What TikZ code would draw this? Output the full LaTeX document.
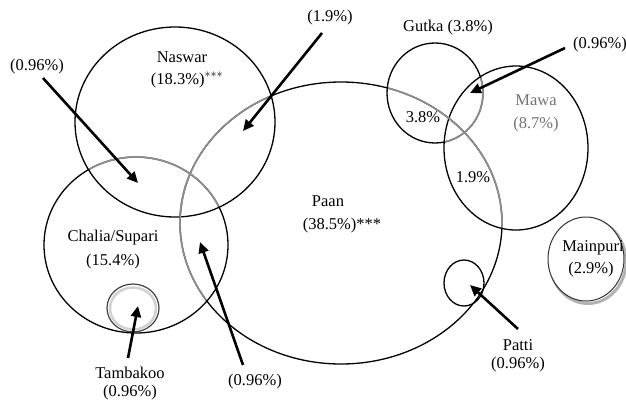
\documentclass[tikz,border=0pt]{standalone}
\usepackage{fontspec}
\setmainfont{Liberation Serif}
\usetikzlibrary{shapes.geometric,arrows.meta}
\begin{document}
\begin{tikzpicture}[x=1pt,y=-1pt,
  ring/.style={draw,ellipse,line width=1.3pt,inner sep=0pt},
  lbl/.style={font=\fontsize{16.5}{18}\selectfont,inner sep=0pt,align=center},
  fade/.style={draw=black!45,line width=1.7pt},
  arr/.style={line width=2.6pt,-{Triangle[length=11pt,width=10pt]}}]
\useasboundingbox (0,0) rectangle (626,402);
% circles
\node[ring,minimum width=200pt,minimum height=190pt] (naswar) at (175,122) {};
\node[ring,minimum width=322pt,minimum height=282pt] (paan) at (341,223) {};
\node[ring,minimum width=184pt,minimum height=176pt] (chalia) at (136,245) {};
\node[ring,minimum width=96pt,minimum height=100pt] (gutka) at (435,93) {};
\node[ring,minimum width=144pt,minimum height=164pt] (mawa) at (516,148) {};
\node[ring,minimum width=40pt,minimum height=46pt] (patti) at (464,283) {};
% faded parts of rings that lie inside other rings
\begin{scope}
  \clip (naswar.center) ellipse [x radius=99pt,y radius=94pt];
  \draw[fade] (paan.center) ellipse [x radius=161pt,y radius=141pt];
  \draw[fade] (chalia.center) ellipse [x radius=92pt,y radius=88pt];
\end{scope}
\begin{scope}
  \clip (chalia.center) ellipse [x radius=91pt,y radius=87pt];
  \draw[fade] (paan.center) ellipse [x radius=161pt,y radius=141pt];
\end{scope}
\begin{scope}
  \clip (gutka.center) ellipse [x radius=47pt,y radius=49pt];
  \draw[fade] (paan.center) ellipse [x radius=161pt,y radius=141pt];
\end{scope}
\begin{scope}
  \clip (mawa.center) ellipse [x radius=71pt,y radius=81pt];
  \draw[fade] (paan.center) ellipse [x radius=161pt,y radius=141pt];
  \draw[fade] (gutka.center) ellipse [x radius=48pt,y radius=50pt];
\end{scope}
% Tambakoo ring with inner glow
\node[ring,draw=black!75,line width=1.2pt,minimum width=52pt,minimum height=48pt] (tamb) at (133,308) {};
\node[ring,draw=black!18,line width=2.5pt,minimum width=46pt,minimum height=42pt] (tambglow) at (133,308.5) {};
% Mainpuri ring with shadow
\node[ring,draw=black!30,line width=3pt,minimum width=76pt,minimum height=84pt] (mainshadow) at (588,261.5) {};
\node[ring,fill=white,draw=black!80,line width=1pt,minimum width=76pt,minimum height=84pt] (mainpuri) at (586,259) {};
% labels
\node[lbl] (tnaswar) at (182,57) {Naswar};
\node[lbl] (pnaswar) at (187,80) {(18.3\%)$^{***}$};
\node[lbl] (tpaan) at (328,201) {Paan};
\node[lbl] (ppaan) at (342,226) {(38.5\%)***};
\node[lbl] (tchalia) at (113,238) {Chalia/Supari};
\node[lbl] (pchalia) at (113,262) {(15.4\%)};
\node[lbl] (tgutka) at (448,28) {Gutka (3.8\%)};
\node[lbl,text=black!55] (tmawa) at (536,100) {Mawa};
\node[lbl,text=black!55] (pmawa) at (536,125) {(8.7\%)};
\node[lbl] (gp) at (423,117) {3.8\%};
\node[lbl] (mp) at (473,177) {1.9\%};
\node[lbl] (tmain) at (593,248) {Mainpuri};
\node[lbl] (pmain) at (591,270) {(2.9\%)};
\node[lbl] (ttamb) at (130,373) {Tambakoo};
\node[lbl] (ptamb) at (130,393) {(0.96\%)};
\node[lbl] (tpatti) at (518,345) {Patti};
\node[lbl] (ppatti) at (518,365) {(0.96\%)};
\node[lbl] (l1) at (37,67) {(0.96\%)};
\node[lbl] (l2) at (330,18) {(1.9\%)};
\node[lbl] (l3) at (600,45) {(0.96\%)};
\node[lbl] (l4) at (255,382) {(0.96\%)};
% arrow ends
\coordinate (a1s) at (43,78);   \coordinate (a1e) at (138,183);
\coordinate (a2s) at (322,33);  \coordinate (a2e) at (243,131);
\coordinate (a3s) at (565,48);  \coordinate (a3e) at (470,93);
\coordinate (a4s) at (128,358); \coordinate (a4e) at (138,306);
\coordinate (a5s) at (243,365); \coordinate (a5e) at (200,242);
\coordinate (a6s) at (518,329); \coordinate (a6e) at (470,285);
\draw[arr] (a1s) -- (a1e);
\draw[arr] (a2s) -- (a2e);
\draw[arr] (a3s) -- (a3e);
\draw[arr] (a4s) -- (a4e);
\draw[arr] (a5s) -- (a5e);
\draw[arr] (a6s) -- (a6e);
\end{tikzpicture}
\end{document}
